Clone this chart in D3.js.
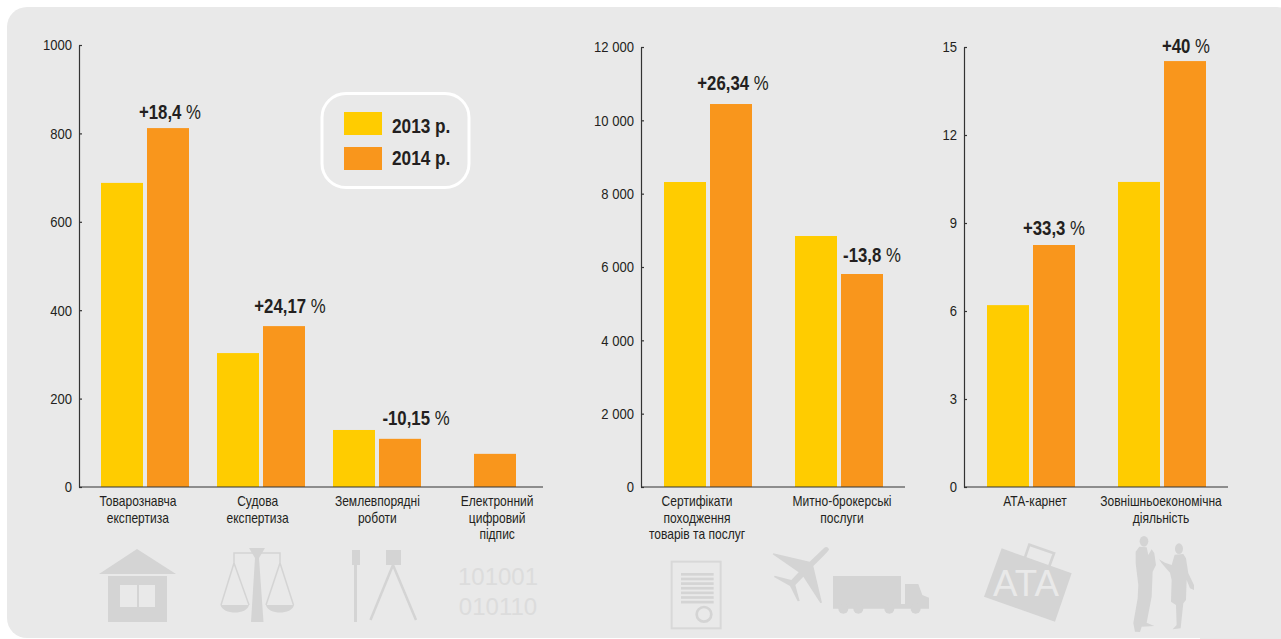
<!DOCTYPE html>
<html>
<head>
<meta charset="utf-8">
<script src="https://cdn.jsdelivr.net/npm/d3@7"></script>
<style>
  html, body { margin: 0; padding: 0; background: #fff; }
  svg { display: block; }
  text { font-family: "Liberation Sans", sans-serif; fill: #231f20; }
</style>
</head>
<body>
<svg id="chart" width="1281" height="639"></svg>
<script>
const SERIES = ["2013 р.", "2014 р."];
const COLORS = ["#ffcc00", "#f9961c"];
const ICON = "#d4d4d4";
const BG = "#e9e9e9";

// Panel 1: services, units
const servicesCats = [["Товарознавча", "експертиза"], ["Судова", "експертиза"], ["Землевпорядні", "роботи"], ["Електронний", "цифровий", "підпис"]];
const services2013 = [688, 303, 129, null];
const services2014 = [812, 364, 109, 75];
const servicesDelta = ["+18,4 %", "+24,17 %", "-10,15 %", null];
const servicesTicks = [0, 200, 400, 600, 800, 1000];

// Panel 2: certificates
const certCats = [["Сертифікати", "походження", "товарів та послуг"], ["Митно-брокерські", "послуги"]];
const cert2013 = [8318, 6845];
const cert2014 = [10445, 5809];
const certDelta = ["+26,34 %", "-13,8 %"];
const certTicks = [0, 2000, 4000, 6000, 8000, 10000, 12000];

// Panel 3: ATA and foreign trade
const ataCats = [["АТА-карнет"], ["Зовнішньоекономічна", "діяльність"]];
const ata2013 = [6.2, 10.4];
const ata2014 = [8.25, 14.52];
const ataDelta = ["+33,3 %", "+40 %"];
const ataTicks = [0, 3, 6, 9, 12, 15];

const BAR_W = 42, BAR_GAP = 4, Y0 = 487;
// The original type is a narrow face, so everything is squeezed horizontally.
const NARROW = 0.84;
const svg = d3.select("#chart");

svg.append("rect").attr("x", 7).attr("y", 7).attr("width", 1290).attr("height", 631).attr("rx", 20).attr("fill", BG);
svg.append("rect").attr("x", 1200).attr("y", 600).attr("width", 81).attr("height", 39).attr("fill", BG);

const fmtSpace = (d) => d3.format(",")(d).replace(/,/g, " ");
const narrowAt = (x, y, sx = NARROW) => `translate(${x},${y}) scale(${sx},1)`;

function drawPanel(opts) {
  const { axisX, axisEnd, yTop, top, cats, a, b, delta, ticks, barRange, labelRange, fmt, nudge } = opts;
  const g = svg.append("g");
  const y = d3.scaleLinear().domain([0, top]).range([Y0, yTop]);
  const keys = cats.map((d, i) => i);
  const xBars = d3.scaleBand().domain(keys).range(barRange);
  const xLabels = d3.scaleBand().domain(keys).range(labelRange);

  keys.forEach((i) => {
    const c = xBars(i) + xBars.bandwidth() / 2;
    const lone = a[i] == null;
    if (!lone) {
      g.append("rect").attr("x", c - BAR_GAP / 2 - BAR_W).attr("y", y(a[i])).attr("width", BAR_W).attr("height", Y0 - y(a[i])).attr("fill", COLORS[0]);
    }
    const bx = lone ? c - BAR_W / 2 + 2 : c + BAR_GAP / 2;
    g.append("rect").attr("x", bx).attr("y", y(b[i])).attr("width", BAR_W).attr("height", Y0 - y(b[i])).attr("fill", COLORS[1]);
    if (delta[i]) {
      const [num, pct] = delta[i].split(" ");
      const [dx, dy] = nudge[i];
      const t = g.append("text").attr("transform", narrowAt(bx + BAR_W / 2 + dx, y(b[i]) - 10 + dy))
        .attr("text-anchor", "middle").attr("font-size", 20);
      t.append("tspan").attr("font-weight", "bold").text(num);
      t.append("tspan").text(" " + pct);
    }
    const lx = xLabels(i) + xLabels.bandwidth() / 2;
    cats[i].forEach((line, k) => {
      g.append("text").attr("transform", narrowAt(lx, 506 + k * 16.7, 0.86)).attr("text-anchor", "middle").attr("font-size", 14).text(line);
    });
  });

  const axis = d3.axisLeft(y).tickValues(ticks).tickSizeInner(-3).tickSizeOuter(0).tickPadding(7).tickFormat(fmt);
  const ag = g.append("g").attr("transform", `translate(${axisX},0)`).call(axis);
  ag.attr("font-family", null).attr("font-size", null);
  ag.selectAll("text").attr("font-size", 15).attr("x", null).attr("dy", "0.33em").attr("transform", narrowAt(-7, 0, 0.87));
  ag.selectAll("line, path").attr("stroke", "#333").attr("stroke-width", 1.2);
  g.append("line").attr("x1", axisX).attr("x2", axisEnd).attr("y1", Y0).attr("y2", Y0).attr("stroke", "#333").attr("stroke-width", 1.2);
}

drawPanel({ axisX: 79, axisEnd: 543, yTop: 45, top: 1000, cats: servicesCats, a: services2013, b: services2014, delta: servicesDelta, ticks: servicesTicks, barRange: [87, 551], labelRange: [78, 557], fmt: d3.format("d"), nudge: [[2, 1], [6, -3], [16, -4], [0, 0]] });
drawPanel({ axisX: 641, axisEnd: 905, yTop: 47, top: 12000, cats: certCats, a: cert2013, b: cert2014, delta: certDelta, ticks: certTicks, barRange: [642.5, 904.5], labelRange: [624.5, 914.5], fmt: fmtSpace, nudge: [[2, -4], [10, -2]] });
drawPanel({ axisX: 964, axisEnd: 1228, yTop: 47, top: 15, cats: ataCats, a: ata2013, b: ata2014, delta: ataDelta, ticks: ataTicks, barRange: [965.5, 1227.5], labelRange: [972, 1224], fmt: d3.format("d"), nudge: [[0, 0], [1, 2]] });

// Legend
const legend = svg.append("g");
legend.append("rect").attr("x", 322).attr("y", 93.5).attr("width", 147).attr("height", 94).attr("rx", 24).attr("fill", "none").attr("stroke", "#fff").attr("stroke-width", 3);
const legendY = d3.scaleBand().domain(SERIES).range([112, 182]);
SERIES.forEach((s, i) => {
  legend.append("rect").attr("x", 344).attr("y", legendY(s)).attr("width", 38).attr("height", 23).attr("fill", COLORS[i]);
  legend.append("text").attr("transform", `translate(392,${133 + i * 32}) scale(0.82,1)`).attr("font-size", 21).attr("font-weight", "bold").text(s);
});

// Decorative icons under the categories
const icons = svg.append("g").attr("fill", ICON);

// house
icons.append("path").attr("fill-rule", "evenodd").attr("d", "M99 574 L137 549 L176 574 Z M108 576 H167 V622 H108 Z M120 585 V607 H137 V585 Z M139 585 V607 H155 V585 Z");
// scales
icons.append("path").attr("d", "M249 548 H265 L259 558 L263.5 622 H251 L255 558 Z");
icons.append("path").attr("fill", "none").attr("stroke", ICON).attr("stroke-width", 1.5).attr("d", "M234 563 V553 H280 V563 M234 563 L221 605 M234 563 L249 605 M280 563 L266 605 M280 563 L293.5 605");
icons.append("path").attr("d", "M220.5 605 H249 C247 615 223 615 220.5 605 Z M266 605 H294 C292 615 268 615 266 605 Z");
// surveying tripod and pole
icons.append("rect").attr("x", 352).attr("y", 550).attr("width", 8).attr("height", 15);
icons.append("rect").attr("x", 354).attr("y", 565).attr("width", 3).attr("height", 57);
icons.append("rect").attr("x", 386).attr("y", 550).attr("width", 15).attr("height", 15);
icons.append("path").attr("fill", "none").attr("stroke", ICON).attr("stroke-width", 2.5).attr("d", "M393 565 L370.5 620 M393 565 L416 620");
// binary digits
["101001", "010110"].forEach((s, i) => {
  icons.append("text").attr("x", 498).attr("y", 585 + i * 30).attr("text-anchor", "middle")
    .attr("font-size", 24).style("fill", "#dcdcdc").text(s);
});

// certificate, drawn at 3x from (660,550)
const cert = icons.append("g").attr("transform", "translate(660,550) scale(0.3333)");
cert.append("rect").attr("x", 35).attr("y", 35).attr("width", 147).attr("height", 200).attr("fill", "none").attr("stroke", "#d8d8d8").attr("stroke-width", 6);
d3.range(7).forEach((i) => {
  cert.append("rect").attr("x", 63).attr("y", 69 + i * 13.9).attr("width", 98).attr("height", 8);
});
cert.append("circle").attr("cx", 132).attr("cy", 193).attr("r", 22).attr("fill", "none").attr("stroke", ICON).attr("stroke-width", 8);

// plane and truck, drawn at 3x from (760,530)
const freight = icons.append("g").attr("transform", "translate(760,530) scale(0.3333)");
freight.append("path").attr("d", "M193 53 Q203 48 207 58 Q207 63 160 108 L186 218 L181 219 L130 140 L106 165 L119 213 L113 214 L90 168 L42 141 L44 137 L94 150 L116 127 L38 73 L40 70 L149 95 Z");
freight.append("path").attr("d", "M219 138 H423 V222 H435 V162 H475 L487 195 L507 203 V236 H219 Z");
[250, 295, 388, 467].forEach((cx) => {
  freight.append("circle").attr("cx", cx).attr("cy", 236).attr("r", 15);
});

// ATA bag and the two people, drawn at 3x from (970,530)
const trade = icons.append("g").attr("transform", "translate(970,530) scale(0.3333)");
trade.append("path").attr("d", "M95 55 L305 130 L255 275 L42 200 Z");
trade.append("path").attr("fill", "none").attr("stroke", ICON).attr("stroke-width", 8).attr("d", "M165 82 L178 44 L252 70 L238 108");
trade.append("text").attr("x", 168).attr("y", 197).attr("text-anchor", "middle").attr("font-size", 110).style("fill", BG).text("ATA");
trade.append("ellipse").attr("cx", 522).attr("cy", 34).attr("rx", 13).attr("ry", 16);
trade.append("path").attr("d", "M508 50 L497 65 L497 100 L505 165 L503 205 L490 280 L495 305 L510 306 L515 290 L553 288 L530 278 L545 200 L548 125 L558 105 L553 70 L545 58 L535 75 L530 52 Z");
trade.append("ellipse").attr("cx", 627).attr("cy", 56).attr("rx", 12).attr("ry", 16);
trade.append("path").attr("d", "M614 74 L605 105 L585 98 L567 88 L575 100 L600 128 L605 150 L603 215 L618 225 L620 285 L608 298 L632 295 L640 220 L648 210 L650 150 L660 175 L672 180 L672 165 L655 130 L648 85 L640 72 Z");
</script>
</body>
</html>
